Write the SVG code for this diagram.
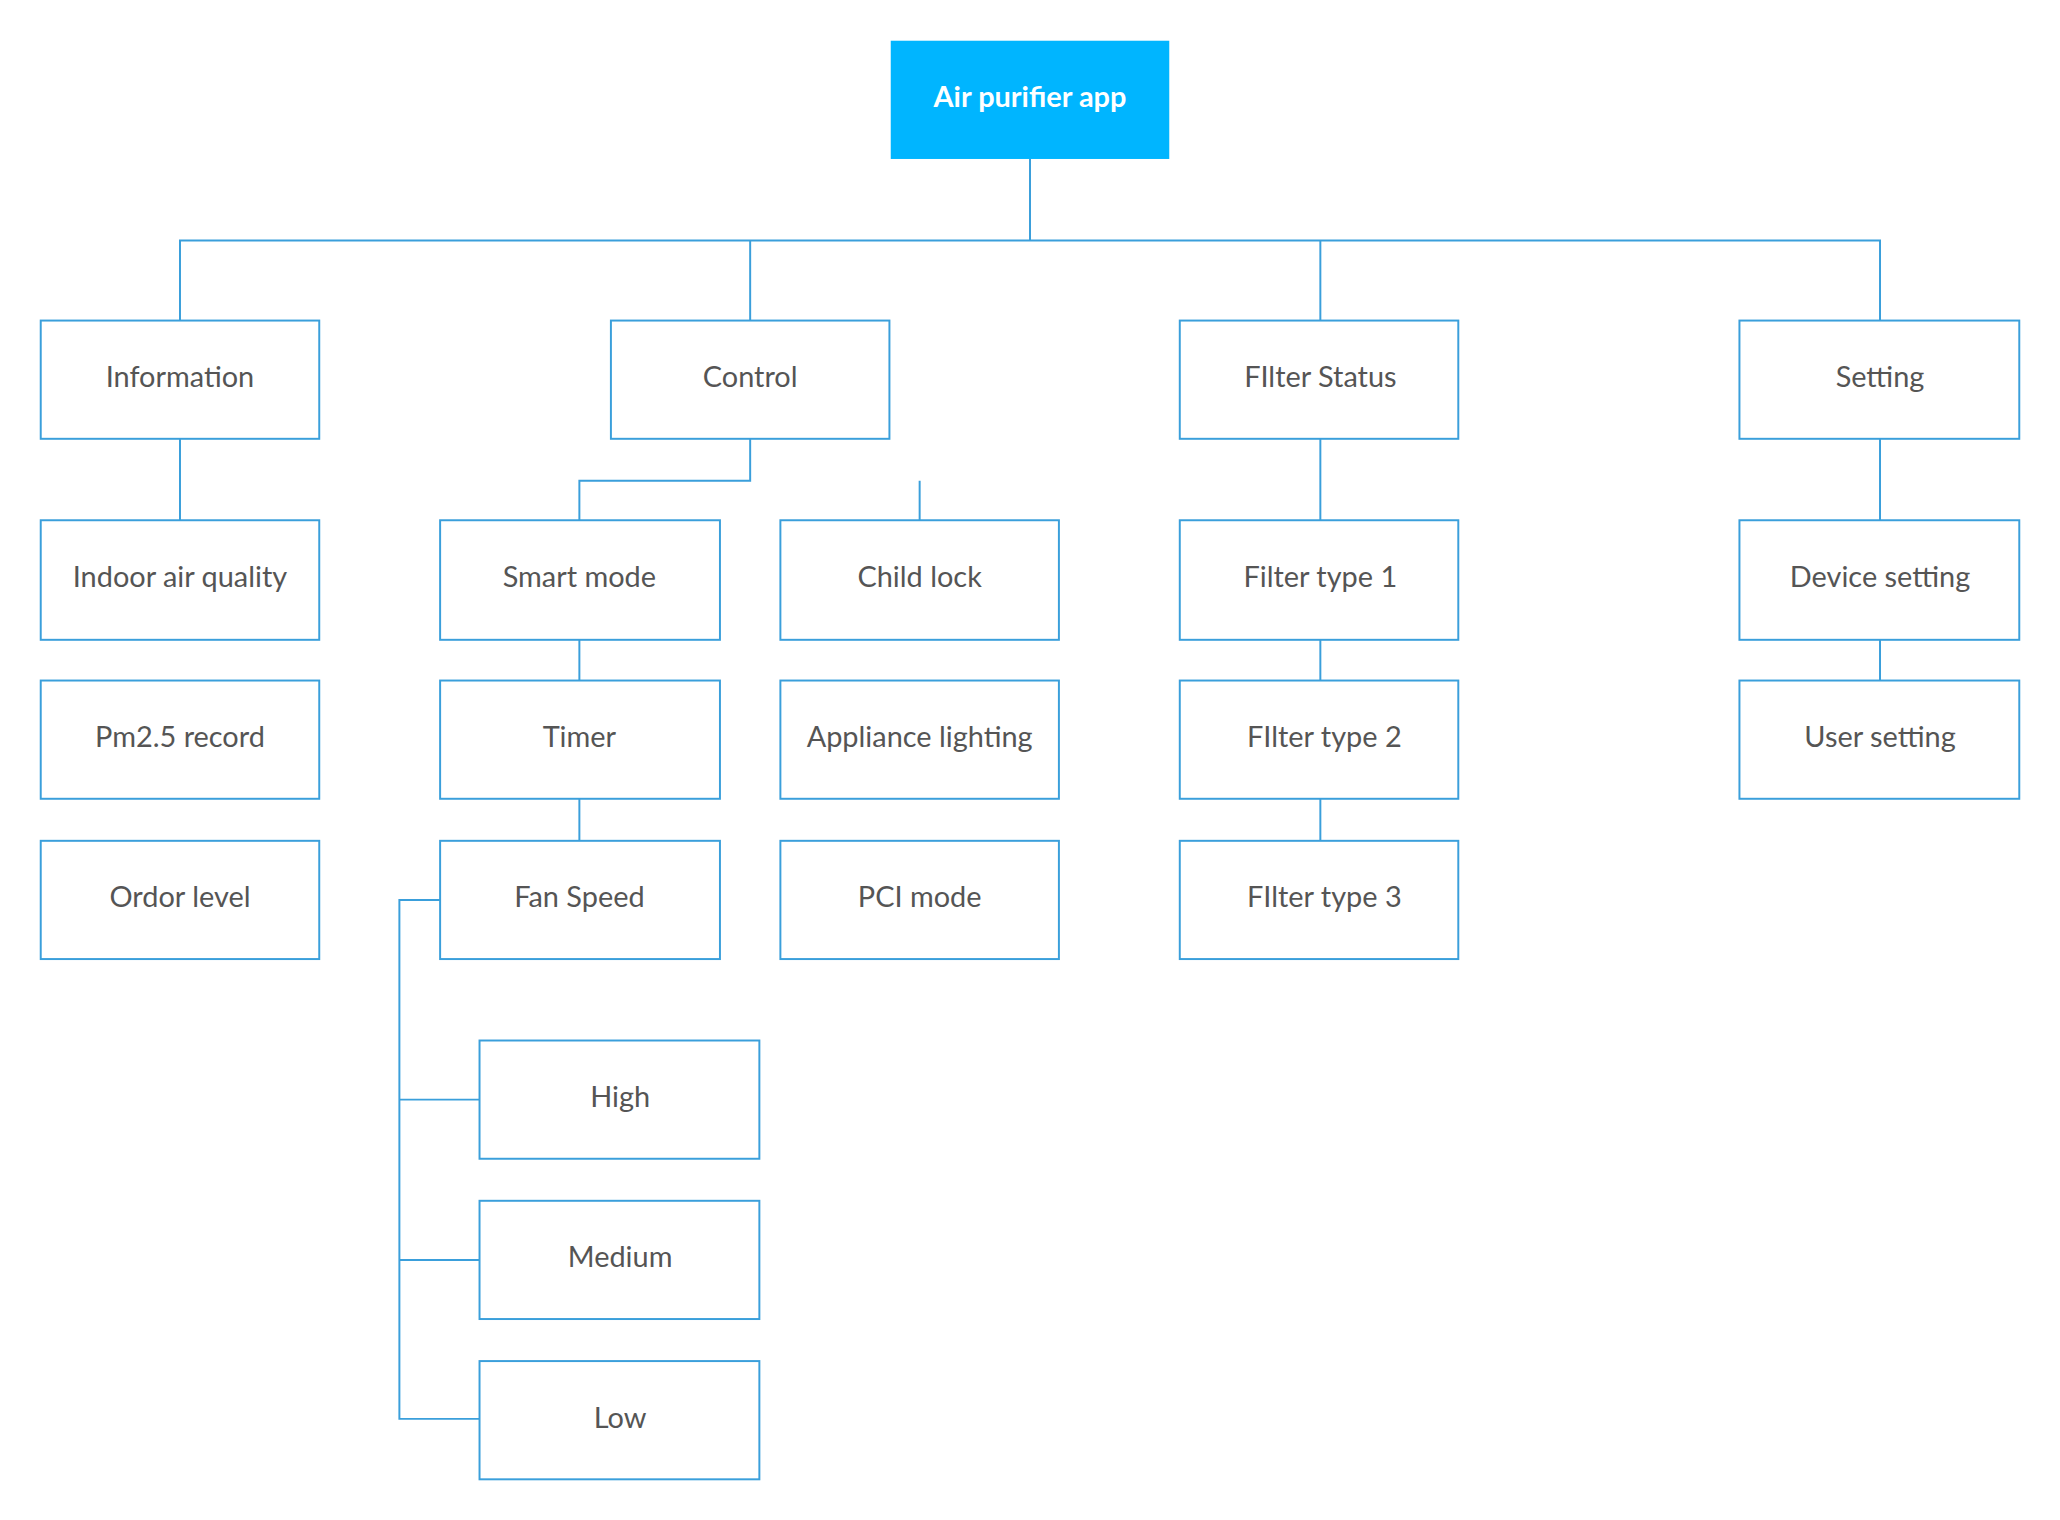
<svg xmlns="http://www.w3.org/2000/svg" width="2060" height="1520" viewBox="0 0 2060 1520">
<style>
.b{fill:#fff;stroke:#3a9fdb;stroke-width:1.5}
.t{font-family:Lato,"Liberation Sans",sans-serif;font-size:22px;fill:#555;text-anchor:middle;dominant-baseline:central}
.c{fill:none;stroke:#3a9fdb;stroke-width:1.5}
</style>
<rect width="2060" height="1520" fill="#fff"/>
<g transform="scale(1.31378)">
<g id="connectors">
<path class="c" d="M784 121V183M137 244V183H1431V244M571 183V244M1005 183V244"/>
<path class="c" d="M137 334V396M571 334V366H441V396M700 366V396M441 487V518M441 608V640"/>
<path class="c" d="M335 685H304V1080H365M304 837H365M304 959H365"/>
<path class="c" d="M1005 334V396M1005 487V518M1005 608V640M1431 334V396M1431 487V518"/>
</g>
<g id="root"><rect x="678" y="31" width="212" height="90" fill="#00b5ff"/><text class="t" x="784" y="73" style="fill:#fff;font-weight:bold">Air purifier app</text></g>
<g id="information"><rect class="b" x="31" y="244" width="212" height="90"/><text class="t" x="137" y="286">Information</text></g>
<g id="control"><rect class="b" x="465" y="244" width="212" height="90"/><text class="t" x="571" y="286">Control</text></g>
<g id="filterstatus"><rect class="b" x="898" y="244" width="212" height="90"/><text class="t" x="1005" y="286">FIlter Status</text></g>
<g id="setting"><rect class="b" x="1324" y="244" width="213" height="90"/><text class="t" x="1431" y="286">Setting</text></g>
<g id="indoor"><rect class="b" x="31" y="396" width="212" height="91"/><text class="t" x="137" y="438">Indoor air quality</text></g>
<g id="pm25"><rect class="b" x="31" y="518" width="212" height="90"/><text class="t" x="137" y="560">Pm2.5 record</text></g>
<g id="ordor"><rect class="b" x="31" y="640" width="212" height="90"/><text class="t" x="137" y="682">Ordor level</text></g>
<g id="smart"><rect class="b" x="335" y="396" width="213" height="91"/><text class="t" x="441" y="438">Smart mode</text></g>
<g id="timer"><rect class="b" x="335" y="518" width="213" height="90"/><text class="t" x="441" y="560">Timer</text></g>
<g id="fan"><rect class="b" x="335" y="640" width="213" height="90"/><text class="t" x="441" y="682">Fan Speed</text></g>
<g id="child"><rect class="b" x="594" y="396" width="212" height="91"/><text class="t" x="700" y="438">Child lock</text></g>
<g id="appliance"><rect class="b" x="594" y="518" width="212" height="90"/><text class="t" x="700" y="560">Appliance lighting</text></g>
<g id="pci"><rect class="b" x="594" y="640" width="212" height="90"/><text class="t" x="700" y="682">PCI mode</text></g>
<g id="ft1"><rect class="b" x="898" y="396" width="212" height="91"/><text class="t" x="1005" y="438">Filter type 1</text></g>
<g id="ft2"><rect class="b" x="898" y="518" width="212" height="90"/><text class="t" x="1008" y="560">FIlter type 2</text></g>
<g id="ft3"><rect class="b" x="898" y="640" width="212" height="90"/><text class="t" x="1008" y="682">FIlter type 3</text></g>
<g id="device"><rect class="b" x="1324" y="396" width="213" height="91"/><text class="t" x="1431" y="438">Device setting</text></g>
<g id="user"><rect class="b" x="1324" y="518" width="213" height="90"/><text class="t" x="1431" y="560">User setting</text></g>
<g id="high"><rect class="b" x="365" y="792" width="213" height="90"/><text class="t" x="472" y="834">High</text></g>
<g id="medium"><rect class="b" x="365" y="914" width="213" height="90"/><text class="t" x="472" y="956">Medium</text></g>
<g id="low"><rect class="b" x="365" y="1036" width="213" height="90"/><text class="t" x="472" y="1078">Low</text></g>
</g>
</svg>
